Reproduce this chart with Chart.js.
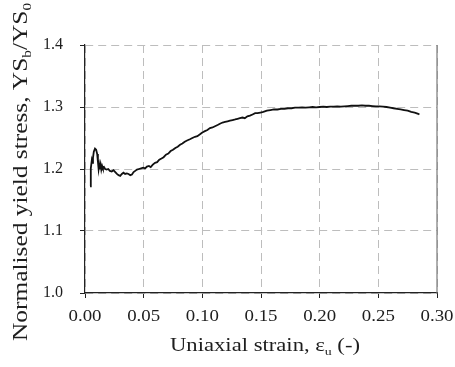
<!DOCTYPE html>
<html>
<head>
<meta charset="utf-8">
<script src="https://cdn.jsdelivr.net/npm/chart.js@4.4.0/dist/chart.umd.min.js"></script>
<style>
  html, body { margin: 0; padding: 0; background: #fff; }
  #wrap { width: 455px; height: 367px; }
</style>
</head>
<body>
<div id="wrap"><canvas id="chart" width="455" height="367"></canvas></div>
<script>
// uniaxial strain (-)
const strain = [
  0.0043, 0.0048, 0.0051, 0.0058, 0.0063, 0.0068, 0.0075, 0.0085, 0.0095, 0.0104,
  0.0110, 0.0116, 0.0121, 0.0127, 0.0133, 0.0139, 0.0146, 0.0153, 0.0162, 0.0172,
  0.0185, 0.0198, 0.0212, 0.0228, 0.0243, 0.0258, 0.0272, 0.0286, 0.0300, 0.0314,
  0.0328, 0.0342, 0.0357, 0.0371, 0.0386, 0.0400, 0.0414, 0.0428, 0.0443, 0.0460,
  0.0478, 0.0496, 0.0512, 0.0528, 0.0545, 0.0560, 0.0578, 0.0597, 0.0615, 0.0633,
  0.0652, 0.0670, 0.0690, 0.0710, 0.0730, 0.0750, 0.0770, 0.0790, 0.0810, 0.0830,
  0.0850, 0.0870, 0.0894, 0.0915, 0.0937, 0.0958, 0.0980, 0.1000, 0.1022, 0.1043,
  0.1065, 0.1087, 0.1108, 0.1130, 0.1150, 0.1172, 0.1194, 0.1215, 0.1236, 0.1258,
  0.1280, 0.1300, 0.1320, 0.1342, 0.1362, 0.1384, 0.1406, 0.1428, 0.1450, 0.1470,
  0.1495, 0.1520, 0.1550, 0.1580, 0.1610, 0.1640, 0.1670, 0.1700, 0.1730, 0.1760,
  0.1790, 0.1820, 0.1850, 0.1880, 0.1910, 0.1940, 0.1970, 0.2000, 0.2030, 0.2060,
  0.2090, 0.2120, 0.2150, 0.2180, 0.2210, 0.2240, 0.2270, 0.2300, 0.2330, 0.2360,
  0.2390, 0.2420, 0.2450, 0.2480, 0.2510, 0.2540, 0.2570, 0.2600, 0.2630, 0.2660,
  0.2690, 0.2720, 0.2750, 0.2780, 0.2810, 0.2840, 0.2850
];
// normalised yield stress YSb/YS0
const ratio = [
  1.172, 1.185, 1.201, 1.214, 1.210, 1.218, 1.228, 1.233, 1.231, 1.224,
  1.212, 1.200, 1.207, 1.200, 1.207, 1.199, 1.205, 1.201, 1.203, 1.200,
  1.199, 1.200, 1.197, 1.196, 1.198, 1.195, 1.192, 1.190, 1.189, 1.192,
  1.194, 1.192, 1.193, 1.192, 1.190, 1.191, 1.195, 1.197, 1.199, 1.200,
  1.201, 1.202, 1.201, 1.204, 1.205, 1.203, 1.207, 1.210, 1.211, 1.215,
  1.217, 1.219, 1.223, 1.225, 1.229, 1.231, 1.234, 1.236, 1.239, 1.241,
  1.244, 1.246, 1.248, 1.250, 1.252, 1.253, 1.256, 1.259, 1.261, 1.263,
  1.266, 1.267, 1.269, 1.271, 1.273, 1.275, 1.276, 1.277, 1.278, 1.279,
  1.280, 1.281, 1.282, 1.283, 1.282, 1.285, 1.286, 1.288, 1.290, 1.290,
  1.291, 1.292, 1.294, 1.295, 1.296, 1.296, 1.297, 1.297, 1.298, 1.298,
  1.299, 1.299, 1.2995, 1.299, 1.2995, 1.300, 1.2995, 1.300, 1.3005, 1.300,
  1.3005, 1.3005, 1.301, 1.3005, 1.301, 1.3015, 1.302, 1.302, 1.302, 1.3025,
  1.302, 1.302, 1.3015, 1.301, 1.301, 1.3005, 1.300, 1.299, 1.298, 1.297,
  1.296, 1.295, 1.294, 1.292, 1.291, 1.289, 1.288
];

const xTicks = [0.00, 0.05, 0.10, 0.15, 0.20, 0.25, 0.30];
const yTicks = [1.0, 1.1, 1.2, 1.3, 1.4];

const yTitle = [
  { t: 'Normalised yield stress, YS' }, { t: 'b', sub: true },
  { t: '/YS' }, { t: '0', sub: true }
];
const xTitle = [
  { t: 'Uniaxial strain, \u03b5' }, { t: 'u', sub: true }, { t: ' (-)' }
];

const FONT = "'Liberation Serif', serif";
const TEXT = '#1e1e1e';

function partFont(p, size) {
  return (p.sub ? Math.round(size * 0.62) : size) + 'px ' + FONT;
}
function richWidth(ctx, parts, size) {
  let w = 0;
  parts.forEach(p => { ctx.font = partFont(p, size); w += ctx.measureText(p.t).width; });
  return w;
}
function drawRich(ctx, parts, size, x) {
  parts.forEach(p => {
    ctx.font = partFont(p, size);
    ctx.fillText(p.t, x, p.sub ? size * 0.22 : 0);
    x += ctx.measureText(p.t).width;
  });
}

const labelsPlugin = {
  id: 'labels',
  afterDraw(chart) {
    const ctx = chart.ctx;
    const { x, y } = chart.scales;
    const area = chart.chartArea;
    ctx.save();

    // right frame line
    ctx.strokeStyle = '#7a7a7a';
    ctx.lineWidth = 1.2;
    ctx.setLineDash([]);
    ctx.beginPath();
    ctx.moveTo(area.right, area.top);
    ctx.lineTo(area.right, area.bottom);
    ctx.stroke();

    ctx.fillStyle = TEXT;
    // y tick labels
    ctx.font = '16px ' + FONT;
    ctx.textAlign = 'right';
    ctx.textBaseline = 'middle';
    yTicks.forEach(v => ctx.fillText(v.toFixed(1), 63, y.getPixelForValue(v)));

    // x tick labels (slightly stretched like the original)
    ctx.textAlign = 'center';
    ctx.textBaseline = 'alphabetic';
    xTicks.forEach(v => {
      ctx.save();
      ctx.translate(x.getPixelForValue(v), 321);
      ctx.scale(1.18, 1);
      ctx.fillText(v.toFixed(2), 0, 0);
      ctx.restore();
    });

    ctx.textAlign = 'left';
    // x title
    let w = richWidth(ctx, xTitle, 18);
    ctx.save();
    ctx.translate(265, 351);
    ctx.scale(190 / w, 1);
    drawRich(ctx, xTitle, 18, -w / 2);
    ctx.restore();

    // y title
    w = richWidth(ctx, yTitle, 20);
    ctx.save();
    ctx.translate(27, 172);
    ctx.rotate(-Math.PI / 2);
    ctx.scale(338 / w, 1);
    drawRich(ctx, yTitle, 20, -w / 2);
    ctx.restore();

    ctx.restore();
  }
};

const points = strain.map((s, i) => ({ x: s, y: ratio[i] }));

function build() {
  new Chart(document.getElementById('chart').getContext('2d'), {
    type: 'line',
    data: {
      datasets: [{
        data: points,
        borderColor: '#111',
        borderWidth: 1.8,
        pointRadius: 0,
        tension: 0,
        fill: false
      }]
    },
    options: {
      responsive: false,
      animation: false,
      layout: { padding: { left: 80, right: 18, top: 45, bottom: 69 } },
      plugins: {
        legend: { display: false },
        tooltip: { enabled: false },
        title: { display: false }
      },
      scales: {
        x: {
          type: 'linear',
          min: 0,
          max: 0.3,
          ticks: { display: false, stepSize: 0.05 },
          grid: { color: '#bdbdbd', lineWidth: 1, tickLength: 5, tickColor: '#222' },
          border: { color: '#222', width: 1.2, dash: [8, 5] }
        },
        y: {
          min: 1.0,
          max: 1.4,
          ticks: { display: false, stepSize: 0.1 },
          grid: { color: '#bdbdbd', lineWidth: 1, tickLength: 5, tickColor: '#222' },
          border: { color: '#222', width: 1.2, dash: [8, 5] }
        }
      }
    },
    plugins: [labelsPlugin]
  });
}

document.fonts.load("16px 'Liberation Serif'").then(build, build);
</script>
</body>
</html>
